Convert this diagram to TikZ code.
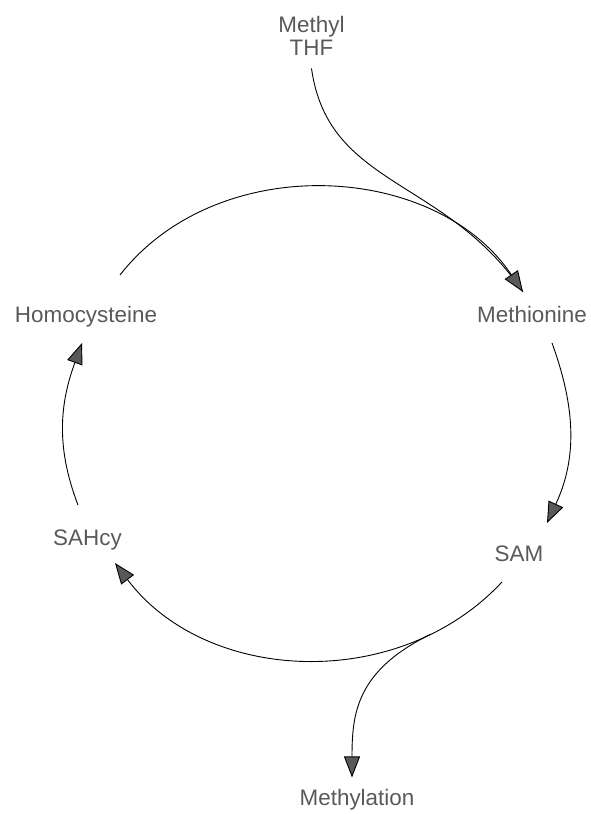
\documentclass[tikz,border=0pt]{standalone}
\usepackage{fontspec}
\setmainfont{Liberation Sans}
\usetikzlibrary{arrows.meta}

\begin{document}
\begin{tikzpicture}[x=1bp, y=1bp,
    mol/.style={font=\fontsize{22.5}{23}\selectfont, text=black!65,
                inner sep=0pt, anchor=base},
    arr/.style={-{Triangle[length=21bp, width=16bp, fill=black!65]},
                line width=0.9bp, black},
    feed/.style={line width=0.9bp, black}
  ]
  \useasboundingbox (0,0) rectangle (591,814);
  \node[mol, align=center, anchor=north] (thf) at (311.5,798) {Methyl\\THF};
  \node[mol] (hcy) at (86,491) {Homocysteine};
  \node[mol] (met) at (532,491) {Methionine};
  \node[mol] (sah) at (87.5,268) {SAHcy};
  \node[mol] (sam) at (519,252) {SAM};
  \node[mol] (mtl) at (357,8.5) {Methylation};
  \draw[feed] ([yshift=-13]thf.south) to[out=-82, in=124, in looseness=1.15] ([shift={(-9,31)}]met.base);
  \draw[arr] ([shift={(34,48)}]hcy.base) to[out=52, in=124] ([shift={(-9,31)}]met.base);
  \draw[arr] ([shift={(20,-20)}]met.base) to[out=-70, in=65] ([shift={(28,39)}]sam.base);
  \draw[arr] ([shift={(-17,-20)}]sam.base) to[out=-133, in=-53] coordinate[pos=0.2] (fork) ([shift={(27.5,-17)}]sah.base);
  \draw[arr] ([shift={(-9.5,41)}]sah.base) to[out=111, in=-110] ([shift={(-4,-20)}]hcy.base);
  \draw[arr] (fork) to[out=-154, in=90, out looseness=1.3] ([shift={(-5,28)}]mtl.base);
\end{tikzpicture}
\end{document}
